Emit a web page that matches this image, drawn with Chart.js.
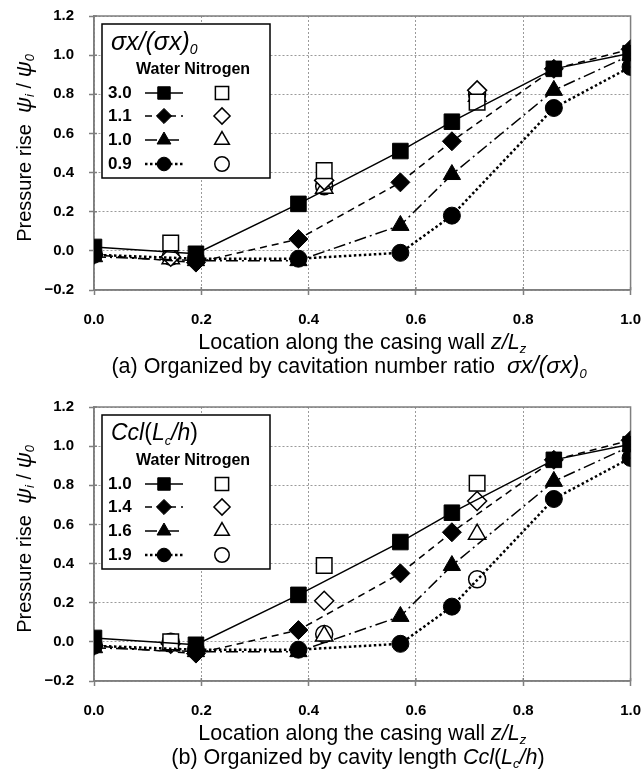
<!DOCTYPE html>
<html>
<head>
<meta charset="utf-8">
<script src="https://cdn.jsdelivr.net/npm/chart.js@4.4.1/dist/chart.umd.min.js"></script>
<style>
  body { margin: 0; background: #fff; width: 641px; height: 774px; overflow: hidden; position: relative; }
  .panel { position: absolute; left: 0; width: 657px; height: 391px; }
</style>
</head>
<body>
<div class="panel" style="top:-8px"><canvas id="chartA" width="657" height="391"></canvas></div>
<div class="panel" style="top:383px"><canvas id="chartB" width="657" height="391"></canvas></div>
<script>
// measuring positions along the casing, z/Lz
const waterZ = [0.0, 0.19, 0.381, 0.571, 0.667, 0.857, 1.0];
const nitrogenZ = [0.143, 0.429, 0.714];

// water runs (same four runs in both panels), psi_i/psi_0
const waterSq = [0.02, -0.015, 0.24, 0.51, 0.66, 0.93, 1.01];
const waterDia = [-0.02, -0.06, 0.06, 0.35, 0.56, 0.93, 1.03];
const waterTri = [-0.03, -0.05, -0.05, 0.13, 0.39, 0.82, 1.00];
const waterCirc = [-0.02, -0.04, -0.04, -0.01, 0.18, 0.73, 0.94];

// nitrogen runs, panel (a): by sigma x/(sigma x)0
const ratioLabels = ['3.0', '1.1', '1.0', '0.9'];
const nitroRatioSq = [0.04, 0.41, 0.76];
const nitroRatioDia = [-0.03, 0.36, 0.82];
const nitroRatioTri = [-0.04, 0.32, 0.79];
const nitroRatioCirc = [-0.03, 0.33, 0.80];

// nitrogen runs, panel (b): by Ccl/(Lc/h)
const lengthLabels = ['1.0', '1.4', '1.6', '1.9'];
const nitroLengthSq = [0.0, 0.39, 0.81];
const nitroLengthDia = [-0.01, 0.21, 0.72];
const nitroLengthTri = [-0.02, 0.03, 0.55];
const nitroLengthCirc = [0.0, 0.04, 0.32];

const xTicks = [0.0, 0.2, 0.4, 0.6, 0.8, 1.0];
const yTicks = [-0.2, 0.0, 0.2, 0.4, 0.6, 0.8, 1.0, 1.2];

// marker / line look for the four runs
const marks = ['rect', 'rectRot', 'triangle', 'circle'];
const radii = [11, 9.5, 10, 8.5];
const dashes = [[], [7, 5], [12, 4, 2, 4], [2.5, 2.5]];
const widths = [1.5, 1.5, 1.5, 2.5];

const FONT = '"Liberation Sans", Arial, sans-serif';

function drawRuns(ctx, parts, x, y, align) {
  let w = 0;
  parts.forEach(p => { ctx.font = p.f; w += ctx.measureText(p.t).width; });
  let cx = align === 'center' ? x - w / 2 : x;
  ctx.textAlign = 'left';
  ctx.textBaseline = 'middle';
  parts.forEach(p => {
    ctx.font = p.f;
    ctx.fillText(p.t, cx, y + (p.dy || 0));
    cx += ctx.measureText(p.t).width;
  });
}

function makeDecor(cfg) {
  return {
    id: 'decor',
    beforeDatasetsDraw(chart) {
      const { ctx, chartArea: a, scales } = chart;
      ctx.save();
      ctx.strokeStyle = '#7f7f7f';
      ctx.lineWidth = 1.5;
      ctx.strokeRect(a.left, a.top, a.right - a.left, a.bottom - a.top);
      // inner half of the tick marks
      ctx.beginPath();
      scales.y.ticks.forEach(t => {
        const py = scales.y.getPixelForValue(t.value);
        ctx.moveTo(a.left, py); ctx.lineTo(a.left + 3, py);
      });
      scales.x.ticks.forEach(t => {
        const px = scales.x.getPixelForValue(t.value);
        ctx.moveTo(px, a.bottom); ctx.lineTo(px, a.bottom - 3);
      });
      ctx.stroke();
      ctx.restore();
    },
    afterDatasetsDraw(chart) {
      const { ctx, chartArea: a } = chart;
      const L = a.left, T = a.top;
      ctx.save();
      ctx.fillStyle = '#fff';
      ctx.fillRect(L + 8, T + 8, 168, 154);
      ctx.strokeStyle = '#000';
      ctx.lineWidth = 1.5;
      ctx.strokeRect(L + 8, T + 8, 168, 154);
      ctx.fillStyle = '#000';
      drawRuns(ctx, cfg.legendTitle, L + 17, T + 27, 'left');
      ctx.font = 'bold 16px ' + FONT;
      ctx.fillText('Water Nitrogen', L + 42, T + 54);
      [77, 100, 124, 148].forEach((dy, i) => {
        const y = T + dy;
        ctx.fillStyle = '#000';
        ctx.strokeStyle = '#000';
        ctx.font = 'bold 17px ' + FONT;
        ctx.fillText(cfg.labels[i], L + 14, y);
        ctx.lineWidth = widths[i];
        ctx.setLineDash(dashes[i]);
        ctx.beginPath(); ctx.moveTo(L + 51, y); ctx.lineTo(L + 89, y); ctx.stroke();
        ctx.setLineDash([]);
        ctx.lineWidth = 1;
        Chart.helpers.drawPoint(ctx, { pointStyle: marks[i], radius: radii[i] * 0.8, rotation: 0, borderWidth: 1 }, L + 70, y);
        ctx.fillStyle = '#fff';
        ctx.lineWidth = 1.5;
        Chart.helpers.drawPoint(ctx, { pointStyle: marks[i], radius: radii[i] * 0.85, rotation: 0, borderWidth: 1.5 }, L + 128, y);
      });
      ctx.restore();
    },
    afterDraw(chart) {
      const { ctx, chartArea: a } = chart;
      ctx.save();
      ctx.fillStyle = '#000';
      // y title, rotated
      ctx.translate(25, a.top + 132);
      ctx.rotate(-Math.PI / 2);
      drawRuns(ctx, [
        { t: 'Pressure rise  ', f: '20px ' + FONT },
        { t: 'ψ', f: 'italic 22px ' + FONT },
        { t: 'i', f: 'italic 13px ' + FONT, dy: 5 },
        { t: ' / ', f: '20px ' + FONT },
        { t: 'ψ', f: 'italic 22px ' + FONT },
        { t: '0', f: 'italic 13px ' + FONT, dy: 5 }
      ], 0, 0, 'center');
      ctx.setTransform(1, 0, 0, 1, 0, 0);
      drawRuns(ctx, [
        { t: 'Location along the casing wall ', f: '21.5px ' + FONT },
        { t: 'z/L', f: 'italic 21.5px ' + FONT },
        { t: 'z', f: 'italic 13px ' + FONT, dy: 6 }
      ], (a.left + a.right) / 2, a.bottom + 53, 'center');
      drawRuns(ctx, cfg.caption, cfg.captionX, a.bottom + 77, 'center');
      ctx.restore();
    }
  };
}

function pts(zs, vals) {
  return zs.map((z, k) => ({ x: z, y: vals[k] }));
}

function buildChart(id, labels, water, nitro, cfg) {
  const datasets = [];
  water.forEach((vals, i) => {
    datasets.push({
      label: 'Water ' + labels[i],
      data: pts(waterZ, vals),
      showLine: true,
      borderColor: '#000',
      borderWidth: widths[i],
      borderDash: dashes[i],
      pointStyle: marks[i],
      pointRadius: radii[i],
      pointBackgroundColor: '#000',
      pointBorderColor: '#000',
      pointBorderWidth: 1
    });
  });
  nitro.forEach((vals, i) => {
    datasets.push({
      label: 'Nitrogen ' + labels[i],
      data: pts(nitrogenZ, vals),
      showLine: false,
      pointStyle: marks[i],
      pointRadius: radii[i],
      pointBackgroundColor: '#fff',
      pointBorderColor: '#000',
      pointBorderWidth: 1.5
    });
  });

  const fmt = v => {
    const r = Math.round(v * 10) / 10;
    return (r < 0 ? '\u2212' : '') + Math.abs(r).toFixed(1);
  };

  return new Chart(document.getElementById(id), {
    type: 'scatter',
    data: { datasets },
    options: {
      responsive: false,
      animation: false,
      events: [],
      layout: { padding: { left: 0, right: 0, top: 6, bottom: 0 } },
      plugins: { legend: { display: false }, tooltip: { enabled: false } },
      scales: {
        x: {
          type: 'linear', min: 0, max: 1,
          afterBuildTicks: s => { s.ticks = xTicks.map(v => ({ value: v })); },
          afterFit: s => { s.height = 93; },
          ticks: { callback: fmt, color: '#000', padding: 16, maxRotation: 0,
                   font: { family: FONT, size: 15, weight: 'bold' } },
          grid: { color: '#9a9a9a', tickColor: '#7f7f7f', tickLength: 5, tickWidth: 1.5 },
          border: { color: '#7f7f7f', width: 1.5, dash: [2, 2] }
        },
        y: {
          type: 'linear', min: -0.2, max: 1.2,
          afterBuildTicks: s => { s.ticks = yTicks.map(v => ({ value: v })); },
          afterFit: s => { s.width = 94; },
          ticks: { callback: fmt, color: '#000', padding: 15,
                   font: { family: FONT, size: 15, weight: 'bold' } },
          grid: { color: '#9a9a9a', tickColor: '#7f7f7f', tickLength: 5, tickWidth: 1.5 },
          border: { color: '#7f7f7f', width: 1.5, dash: [2, 2] }
        }
      }
    },
    plugins: [makeDecor(cfg)]
  });
}

buildChart('chartA', ratioLabels,
  [waterSq, waterDia, waterTri, waterCirc],
  [nitroRatioSq, nitroRatioDia, nitroRatioTri, nitroRatioCirc],
  {
    labels: ratioLabels,
    legendTitle: [
      { t: 'σx/(σx)', f: 'italic 25px ' + FONT },
      { t: '0', f: 'italic 14px ' + FONT, dy: 7 }
    ],
    captionX: 349,
    caption: [
      { t: '(a) Organized by cavitation number ratio  ', f: '21.5px ' + FONT },
      { t: 'σx/(σx)', f: 'italic 23px ' + FONT },
      { t: '0', f: 'italic 13px ' + FONT, dy: 7 }
    ]
  });

buildChart('chartB', lengthLabels,
  [waterSq, waterDia, waterTri, waterCirc],
  [nitroLengthSq, nitroLengthDia, nitroLengthTri, nitroLengthCirc],
  {
    labels: lengthLabels,
    legendTitle: [
      { t: 'Ccl', f: 'italic 23px ' + FONT },
      { t: '(', f: '23px ' + FONT },
      { t: 'L', f: 'italic 23px ' + FONT },
      { t: 'c', f: 'italic 13px ' + FONT, dy: 7 },
      { t: '/', f: 'italic 23px ' + FONT },
      { t: 'h', f: 'italic 23px ' + FONT },
      { t: ')', f: '23px ' + FONT }
    ],
    captionX: 358,
    caption: [
      { t: '(b) Organized by cavity length ', f: '21.5px ' + FONT },
      { t: 'Ccl', f: 'italic 21.5px ' + FONT },
      { t: '(', f: '21.5px ' + FONT },
      { t: 'L', f: 'italic 21.5px ' + FONT },
      { t: 'c', f: 'italic 13px ' + FONT, dy: 6 },
      { t: '/', f: 'italic 21.5px ' + FONT },
      { t: 'h', f: 'italic 21.5px ' + FONT },
      { t: ')', f: '21.5px ' + FONT }
    ]
  });
</script>
</body>
</html>
